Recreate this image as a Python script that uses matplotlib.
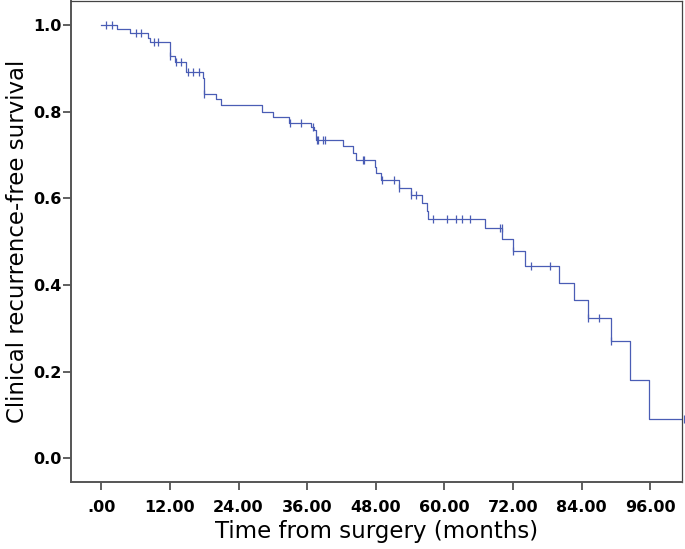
import numpy as np
import matplotlib
matplotlib.use('Agg')
import matplotlib.pyplot as plt

# event times (months) and survival after each step
event_t = [0, 2.8, 5.0, 8.1, 8.6, 12.0, 12.9, 14.8, 17.7, 18.0, 20.0, 21.0, 28.1,
           30.0, 32.9, 36.7, 37.2, 37.5, 42.3, 44.1, 44.5, 47.9, 48.1, 48.9,
           52.1, 54.1, 56.1, 56.9, 57.1, 67.1, 70.1, 72.0, 74.1, 80.0, 82.7,
           85.1, 89.1, 92.4, 95.8]
event_s = [1.0, 0.990, 0.981, 0.971, 0.960, 0.928, 0.914, 0.892, 0.879, 0.840,
           0.829, 0.816, 0.800, 0.788, 0.775, 0.765, 0.758, 0.734, 0.720, 0.704,
           0.688, 0.673, 0.658, 0.642, 0.625, 0.608, 0.590, 0.571, 0.553, 0.531,
           0.507, 0.479, 0.445, 0.405, 0.365, 0.324, 0.271, 0.181, 0.091]
last_t = 101.9

# censored cases
censor_t = [0.9, 1.8, 6.1, 6.9, 9.3, 10.0, 12.0, 13.1, 13.9, 15.2, 16.1, 17.0,
            18.0, 33.0, 35.0, 37.0, 37.7, 37.9, 38.8, 39.2, 45.8, 46.0, 49.1,
            51.1, 52.1, 54.1, 55.1, 58.0, 60.4, 62.1, 63.1, 64.5, 69.8, 70.0,
            72.0, 75.1, 78.4, 85.1, 87.1, 89.1, 101.9]

x_ticks = [0, 12, 24, 36, 48, 60, 72, 84, 96]
x_labels = ['.00', '12.00', '24.00', '36.00', '48.00', '60.00', '72.00', '84.00', '96.00']
y_ticks = [0.0, 0.2, 0.4, 0.6, 0.8, 1.0]
y_labels = ['0.0', '0.2', '0.4', '0.6', '0.8', '1.0']

col = '#4A5DB5'

fig = plt.figure(figsize=(6.85, 5.49), dpi=100)
ax = fig.add_axes([0.1032, 0.1215, 0.892, 0.8765])

tt = np.array(event_t + [last_t])
ss = np.array(event_s + [event_s[-1]])
ax.step(tt, ss, where='post', color=col, lw=0.9)

# censor marks sit on the curve level at that time
idx = np.searchsorted(np.array(event_t), np.array(censor_t), side='right') - 1
cs = np.array(event_s)[idx]
ax.plot(censor_t, cs, ls='none', marker='|', ms=5.5, mew=0.9, color=col, clip_on=False)

ax.set_xlim(-5.35, 101.5)
ax.set_ylim(-0.0554, 1.0554)
ax.set_xticks(x_ticks)
ax.set_xticklabels(x_labels, fontweight='bold', fontsize=11.5)
ax.set_yticks(y_ticks)
ax.set_yticklabels(y_labels, fontweight='bold', fontsize=11.5)
ax.tick_params(axis='x', length=5.5, width=1.2, color='#444444', pad=7)
ax.tick_params(axis='y', length=5.8, width=1.2, color='#444444', pad=1)

for s in ['left', 'bottom']:
    ax.spines[s].set_linewidth(1.4)
    ax.spines[s].set_color('#555555')
for s in ['top', 'right']:
    ax.spines[s].set_linewidth(0.9)
    ax.spines[s].set_color('#444444')

ax.set_xlabel('Time from surgery (months)', fontsize=16.5, labelpad=4)
ax.set_ylabel('Clinical recurrence-free survival', fontsize=16.5, labelpad=3)

fig.savefig('out.png', dpi=100)
